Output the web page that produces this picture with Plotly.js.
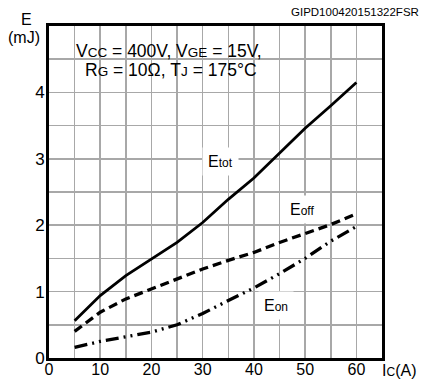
<!DOCTYPE html>
<html><head><meta charset="utf-8">
<script src="https://cdn.plot.ly/plotly-3.0.1.min.js"></script>
<style>html,body{margin:0;padding:0;background:#fff}#c{width:422px;height:383px}</style>
</head><body><div id="c"></div>
<script>
const ic = [5, 10, 15, 20, 25, 30, 35, 40, 45, 50, 55, 60];
const etot = [0.56, 0.94, 1.24, 1.49, 1.74, 2.04, 2.39, 2.71, 3.09, 3.46, 3.80, 4.15];
const eoff = [0.40, 0.69, 0.89, 1.04, 1.19, 1.34, 1.47, 1.59, 1.74, 1.87, 2.01, 2.17];
const eon  = [0.16, 0.25, 0.32, 0.39, 0.50, 0.67, 0.865, 1.055, 1.27, 1.50, 1.76, 1.98];
const xTickVals = [0,5,10,15,20,25,30,35,40,45,50,55,60,65];
const xTickText = ['0','','10','','20','','30','','40','','50','','60',''];
const yTickVals = [0,0.5,1,1.5,2,2.5,3,3.5,4,4.5,5];
const yTickText = ['0','','1','','2','','3','','4','',''];

const F = 'Arial, "Liberation Sans", sans-serif';
const sm = (s, z) => '<span style="font-size:' + z + 'px">' + s + '</span>';

const traces = [
  {x: ic, y: etot, mode: 'lines', line: {color: '#000', width: 2.8}},
  {x: ic, y: eoff, mode: 'lines', line: {color: '#000', width: 3.3, dash: '9px,5px'}},
  {x: ic, y: eon,  mode: 'lines', line: {color: '#000', width: 3.3, dash: '13px,5px,2px,5px,2px,5px'}}
];

const layout = {
  width: 422, height: 383,
  margin: {l: 49, r: 40, t: 26, b: 25},
  paper_bgcolor: '#fff', plot_bgcolor: '#fff',
  showlegend: false,
  font: {family: F, size: 16, color: '#000'},
  xaxis: {range: [0, 65], tickvals: xTickVals, ticktext: xTickText, showgrid: true,
    gridcolor: '#a8a8a8', gridwidth: 1.5, showline: true, linecolor: '#000', linewidth: 3,
    mirror: true, zeroline: false, ticks: '', ticklen: 0, tickfont: {size: 16}, ticklabelstandoff: -5},
  yaxis: {range: [0, 5], tickvals: yTickVals, ticktext: yTickText, showgrid: true,
    gridcolor: '#a8a8a8', gridwidth: 1.5, showline: true, linecolor: '#000', linewidth: 3,
    mirror: true, zeroline: false, ticks: '', ticklen: 0, tickfont: {size: 17}, ticklabelstandoff: -2},
  shapes: [
    {type: 'rect', xref: 'paper', yref: 'paper', x0: 0.043, x1: 0.674, y0: 0.836, y1: 1,
     fillcolor: '#fff', line: {width: 0}, layer: 'between'}
  ],
  annotations: [
    {xref: 'paper', yref: 'paper', x: 0.361, y: 0.925, showarrow: false, xanchor: 'center', yanchor: 'middle',
     text: 'V' + sm('CC', 13.5) + ' = 400V, V' + sm('GE', 13.5) + ' = 15V,', font: {size: 17.5}},
    {xref: 'paper', yref: 'paper', x: 0.367, y: 0.8666, showarrow: false, xanchor: 'center', yanchor: 'middle',
     text: 'R' + sm('G', 13.5) + ' = 10Ω, T' + sm('J', 13.5) + ' = 175°C', font: {size: 17.5}},
    {xref: 'x', yref: 'y', x: 33.4, y: 2.96, showarrow: false, text: 'E' + sm('tot', 12), bgcolor: '#fff', borderpad: 5, font: {size: 16}},
    {xref: 'x', yref: 'y', x: 49.3, y: 2.24, showarrow: false, text: 'E' + sm('off', 12), bgcolor: '#fff', borderpad: 5, font: {size: 16}},
    {xref: 'x', yref: 'y', x: 44.3, y: 0.79, showarrow: false, text: 'E' + sm('on', 12), bgcolor: '#fff', borderpad: 5, font: {size: 16}},
    {xref: 'paper', yref: 'paper', x: -0.068, y: 1.02, showarrow: false, text: 'E', xanchor: 'center', yanchor: 'middle', font: {size: 16}},
    {xref: 'paper', yref: 'paper', x: -0.074, y: 0.966, showarrow: false, text: '(mJ)', xanchor: 'center', yanchor: 'middle', font: {size: 16}},
    {xref: 'paper', yref: 'paper', x: 1.052, y: -0.037, showarrow: false, text: 'I' + sm('C', 12) + '(A)', xanchor: 'center', yanchor: 'middle', font: {size: 16}},
    {xref: 'paper', yref: 'paper', x: 1.118, y: 1.042, showarrow: false, text: 'GIPD100420151322FSR', xanchor: 'right', yanchor: 'middle', font: {size: 11.5}}
  ]
};
Plotly.newPlot('c', traces, layout, {displayModeBar: false, staticPlot: true});
</script></body></html>
